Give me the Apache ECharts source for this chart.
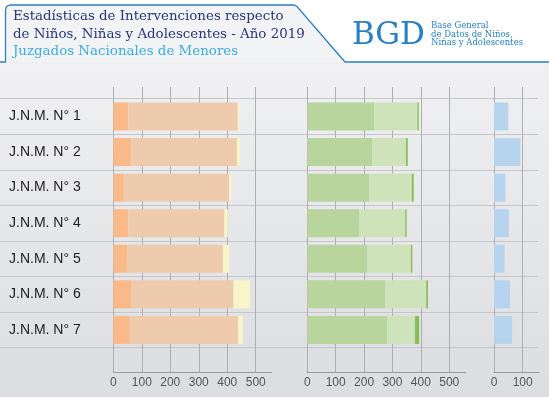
<!DOCTYPE html>
<html>
<head>
<meta charset="utf-8">
<script src="https://cdn.jsdelivr.net/npm/echarts@6/dist/echarts.min.js"></script>
<style>
html, body { margin: 0; padding: 0; background: #fff; }
#chart { width: 549px; height: 397px; }
</style>
</head>
<body>
<div id="chart"></div>
<script>
// categorias (juzgados)
var categories = ['J.N.M. N° 1', 'J.N.M. N° 2', 'J.N.M. N° 3', 'J.N.M. N° 4', 'J.N.M. N° 5', 'J.N.M. N° 6', 'J.N.M. N° 7'];
// panel 1 (naranja)
var orangeA = [53, 63, 37, 53, 50, 62, 58];
var orangeB = [384, 371, 370, 337, 335, 360, 380];
var orangeC = [6, 10, 6, 12, 21, 58, 16];
// panel 2 (verde)
var greenA = [235, 228, 218, 184, 212, 274, 281];
var greenB = [153, 120, 150, 161, 153, 145, 98];
var greenC = [5, 6, 7, 5, 5, 6, 15];
// panel 3 (azul)
var blueA = [50, 92, 40, 52, 37, 56, 63];

var panels = [
  { left: 113.3, right: 549 - 271.7, max: 556 },
  { left: 307.3, right: 549 - 465.7, max: 558 },
  { left: 494, right: 549 - 539, max: 157 }
];

var grids = [], xAxes = [], yAxes = [], series = [];

// grid 0: etiquetas y lineas horizontales a todo el ancho
grids.push({ left: 0, right: 11, top: 98.7, bottom: 49.3 });
xAxes.push({ gridIndex: 0, type: 'value', show: false, min: 0, max: 1 });
yAxes.push({
  gridIndex: 0, type: 'category', data: categories, inverse: true,
  axisLine: { show: false }, axisTick: { show: false },
  axisLabel: { inside: true, margin: 9, color: '#222', fontSize: 14, fontFamily: 'Liberation Sans' },
  splitLine: { show: true, lineStyle: { color: '#c6c7ca', width: 1 } }
});

// grids 1-3: ejes x con lineas verticales
panels.forEach(function (p) {
  var gi = grids.length;
  grids.push({ left: p.left, right: p.right, top: 87, bottom: 25 });
  xAxes.push({
    gridIndex: gi, type: 'value', min: 0, max: p.max, interval: 100,
    axisLine: { show: true, lineStyle: { color: '#9a9a9c', width: 1 } },
    axisTick: { show: false },
    axisLabel: {
      margin: 5, color: '#555', fontSize: 12, fontFamily: 'Liberation Sans',
      showMaxLabel: false,
      formatter: function (v) { return v % 100 === 0 ? v : ''; }
    },
    splitLine: { show: true, showMaxLine: false, lineStyle: { color: '#aeafb1', width: 1 } }
  });
  yAxes.push({ gridIndex: gi, type: 'category', data: categories, show: false });
});

// grids 4-6: barras
var panelSeries = [
  [[orangeA, '#fab988'], [orangeB, '#efcbae'], [orangeC, '#f8f6c8']],
  [[greenA, '#b8d59e'], [greenB, '#cfe3bb'], [greenC, '#86bf55']],
  [[blueA, '#b7d4ee']]
];
panels.forEach(function (p, i) {
  var gi = grids.length;
  grids.push({ left: p.left, right: p.right, top: 98.7, bottom: 49.3 });
  xAxes.push({ gridIndex: gi, type: 'value', min: 0, max: p.max, show: false });
  yAxes.push({ gridIndex: gi, type: 'category', data: categories, inverse: true, show: false });
  panelSeries[i].forEach(function (s, k) {
    series.push({
      type: 'bar', name: 'p' + (i + 1) + '_' + k, stack: 'p' + i,
      xAxisIndex: gi, yAxisIndex: gi, barWidth: 28,
      data: s[0], itemStyle: { color: s[1] }, silent: true
    });
  });
});

var titleFont = 'DejaVu Serif';
// texto con la linea base en y (aprox.)
function txt(str, x, base, size, color) {
  return { type: 'text', x: x, y: base - size * 0.36,
    style: { text: str, font: size + 'px "' + titleFont + '"', fill: color, verticalAlign: 'middle' } };
}
var chart = echarts.init(document.getElementById('chart'), null, { renderer: 'canvas' });
chart.setOption({
  animation: false,
  graphic: [
    { type: 'rect', z: -10, shape: { x: 0, y: 0, width: 549, height: 397 },
      style: { fill: new echarts.graphic.LinearGradient(0, 0, 0, 1, [
        { offset: 0, color: '#f4f4f5' }, { offset: 1, color: '#dcdde0' }]) } },
    { type: 'rect', z: -9, shape: { x: 0, y: 0, width: 549, height: 62 }, style: { fill: '#fff' } },
    { type: 'polygon', z: -8, shape: { points: [[5.5, 62], [5.5, 9], [9.5, 5], [295, 5], [345, 62]] },
      style: { fill: '#f2f3f5' } },
    { type: 'polyline', z: -7,
      shape: { points: [[0, 62], [5.5, 62], [5.5, 10], [6.5, 6.5], [10, 5], [294, 5], [297, 6.5], [345, 62], [549, 62]] },
      style: { stroke: '#2d7fc0', lineWidth: 1.3, fill: null } },
    txt('Estadísticas de Intervenciones respecto', 13, 21, 13.4, '#27367a'),
    txt('de Niños, Niñas y Adolescentes - Año 2019', 13, 39, 13.4, '#27367a'),
    txt('Juzgados Nacionales de Menores', 13, 56.5, 13.4, '#3badde'),
    txt('BGD', 352, 47, 31, '#2a80c4'),
    txt('Base General', 431, 29, 8.5, '#2a80c4'),
    txt('de Datos de Niños,', 431, 37.5, 8.5, '#2a80c4'),
    txt('Niñas y Adolescentes', 431, 46, 8.5, '#2a80c4')
  ],
  grid: grids,
  xAxis: xAxes,
  yAxis: yAxes,
  series: series
});
</script>
</body>
</html>
